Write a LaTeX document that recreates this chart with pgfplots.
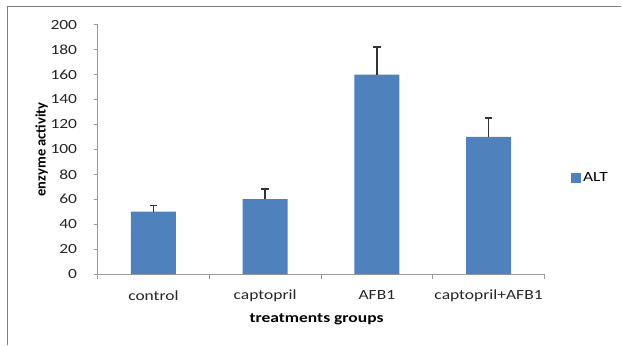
\documentclass[border=0pt]{standalone}
\usepackage{pgfplots}
\pgfplotsset{compat=1.18}
\usepackage{fontspec}
\setmainfont{Carlito}
\newfontfamily\stretched{Carlito}[FakeStretch=1.25]
\definecolor{barblue}{HTML}{4F81BD}
\definecolor{axgray}{HTML}{9A9A9A}
\definecolor{framegray}{HTML}{808080}
\begin{document}
\begin{tikzpicture}
\begin{axis}[
  name=ax,
  scale only axis, width=447.3pt, height=249.6pt,
  xmin=-0.5, xmax=3.5, ymin=0, ymax=200,
  axis x line*=bottom, axis y line*=left,
  axis line style={axgray,-,line width=0.8pt},
  ytick={0,20,...,200},
  xtick={0,1,2,3},
  xticklabels={control,captopril,AFB1,captopril+AFB1},
  minor xtick={-0.5,0.5,1.5,2.5,3.5},
  major x tick style={draw=none},
  minor x tick style={axgray,line width=0.8pt},
  y tick style={axgray,line width=0.8pt},
  tick align=outside,
  major tick length=4pt, minor tick length=5pt,
  every tick label/.append style={font=\stretched\fontsize{14}{16}\selectfont, text=black!85},
  /pgf/number format/assume math mode=true,
  yticklabel style={anchor=east, xshift=-13pt},
  every x tick label/.append style={anchor=center, yshift=-17.4pt},
  xlabel={\textbf{treatments groups}},
  ylabel={\textbf{enzyme activity}},
  xlabel style={font=\stretched\fontsize{14}{16}\selectfont, at={(axis description cs:0.49,-0.182)}, anchor=center},
  ylabel style={font=\fontsize{14.5}{16}\selectfont, at={(axis description cs:-0.125,0.5)}, anchor=center},
  ybar, bar width=45pt,
  legend style={at={(1.0,0.385)}, anchor=west, draw=none, fill=none, inner sep=0pt,
    xshift=26pt,
    font=\stretched\fontsize{14}{16}\selectfont},
  legend image code/.code={\fill[barblue] (0pt,-5pt) rectangle (10.5pt,5pt);},
]
\addplot[fill=barblue, draw=none,
  error bars/.cd, y dir=plus, y explicit,
  error bar style={line width=1.8pt, black!80},
  error mark options={rotate=90, mark size=3.7pt, line width=1.8pt, black!80}]
  coordinates {
  (0,50) +- (0,5)
  (1,60) +- (0,8)
  (2,160) +- (0,22)
  (3,110) +- (0,15)
};
\addlegendentry{ALT}
\end{axis}
\path (ax.south west) ++(-97.7pt,-70.7pt) rectangle ++(622pt,345pt);
\draw[framegray,line width=1.3pt] (ax.south west) ++(-90.4pt,-70.7pt) -- ++(0pt,338.3pt) -- ++(614.7pt,0pt);
\end{tikzpicture}
\end{document}
